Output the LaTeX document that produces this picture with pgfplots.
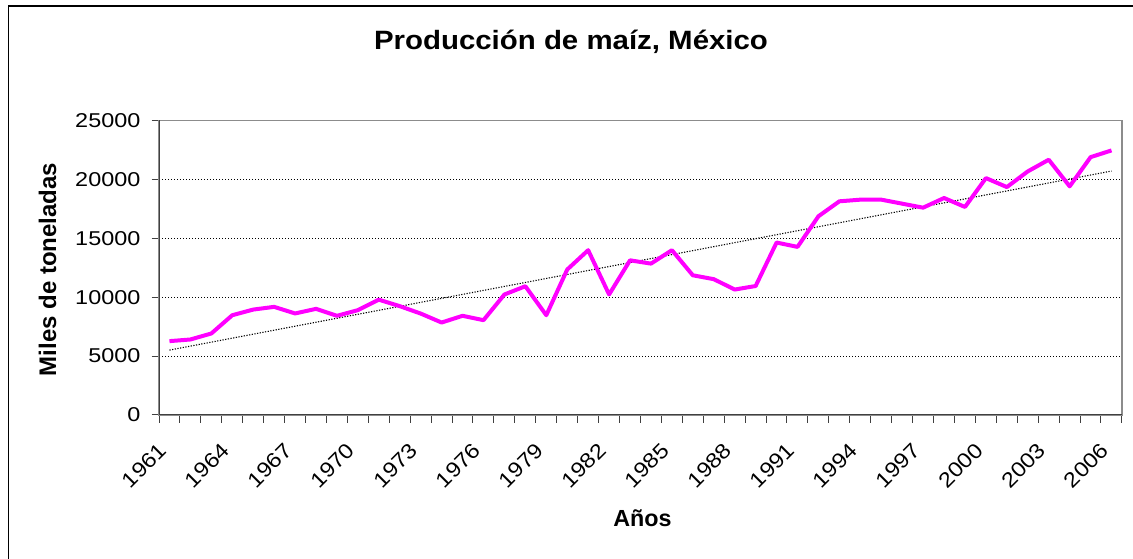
\documentclass[border=0pt]{standalone}
\usepackage{fontspec}
\setmainfont{Liberation Sans}
\newfontfamily\tickfont[FakeStretch=1.17]{Liberation Sans}
\newfontfamily\xtickfont[FakeStretch=1.12]{Liberation Sans}
\newfontfamily\titlefont[FakeStretch=1.11]{Liberation Sans}
\usepackage{pgfplots}
\pgfplotsset{compat=1.18}
\definecolor{axdark}{HTML}{404040}
\definecolor{axgray}{HTML}{8C8C8C}
\begin{document}
\begin{tikzpicture}
\path[use as bounding box] (0bp,0bp) rectangle (1133bp,559bp);
\draw[black, line width=1.1bp] (8.3bp,0bp) -- (8.3bp,553bp) -- (1133bp,553bp);
\node[anchor=base, font=\titlefont\bfseries\fontsize{26.5bp}{30bp}\selectfont] at (571bp,509bp) {Producción de maíz, México};
\node[anchor=base, font=\bfseries\fontsize{23.3bp}{26bp}\selectfont] at (642.5bp,32.3bp) {Años};
\node[anchor=base, rotate=90, font=\bfseries\fontsize{24bp}{27bp}\selectfont] at (56bp,289.5bp) {Miles de toneladas};
\begin{axis}[
  at={(159bp,144bp)}, anchor=south west,
  width=963bp, height=294.5bp, scale only axis,
  xmin=1960.5, xmax=2006.5, ymin=0, ymax=25000,
  axis line style={draw=axgray, line width=1.3bp},
  tick align=outside,
  xtick pos=bottom, ytick pos=left,
  major tick length=7.5bp, minor tick length=7.5bp,
  tick style={draw=axdark, line width=1bp},
  major x tick style={draw=none},
  scaled y ticks=false,
  xtick={1961,1964,1967,1970,1973,1976,1979,1982,1985,1988,1991,1994,1997,2000,2003,2006},
  xticklabels={1961,1964,1967,1970,1973,1976,1979,1982,1985,1988,1991,1994,1997,2000,2003,2006},
  minor xtick={1960.5,1961.5,...,2006.5},
  ytick={0,5000,10000,15000,20000,25000},
  yticklabels={0,5000,10000,15000,20000,25000},
  xticklabel style={xshift=-12bp, rotate=45, anchor=north east, inner sep=0pt, font=\xtickfont\fontsize{21bp}{21bp}\selectfont},
  yticklabel style={anchor=east, inner sep=0pt, font=\tickfont\fontsize{20bp}{20bp}\selectfont},
  xticklabel shift=19bp,
  yticklabel shift=11bp,
  ymajorgrids,
  y grid style={black, line width=1bp, dash pattern=on 1bp off 2bp},
]
\addplot[black, line width=1.1bp, dash pattern=on 1.2bp off 1.5bp] coordinates {(1961,5510) (2006,20710)};
\addplot[color={rgb,255:red,255;green,0;blue,255}, line width=4bp, line join=round] coordinates {
(1961,6270) (1962,6410) (1963,6920) (1964,8470) (1965,8950) (1966,9180)
(1967,8620) (1968,9010) (1969,8420) (1970,8900) (1971,9790) (1972,9240)
(1973,8610) (1974,7850) (1975,8420) (1976,8050) (1977,10230) (1978,10930)
(1979,8470) (1980,12350) (1981,13990) (1982,10230) (1983,13130) (1984,12850)
(1985,13990) (1986,11860) (1987,11530) (1988,10650) (1989,10950) (1990,14640)
(1991,14270) (1992,16870) (1993,18140) (1994,18280) (1995,18280) (1996,17940)
(1997,17600) (1998,18420) (1999,17660) (2000,20110) (2001,19350) (2002,20680)
(2003,21670) (2004,19410) (2005,21890) (2006,22460)};
\draw[axdark, line width=1.6bp] (rel axis cs:0,1) -- (rel axis cs:0,0) -- (rel axis cs:1,0);
\end{axis}
\end{tikzpicture}
\end{document}
